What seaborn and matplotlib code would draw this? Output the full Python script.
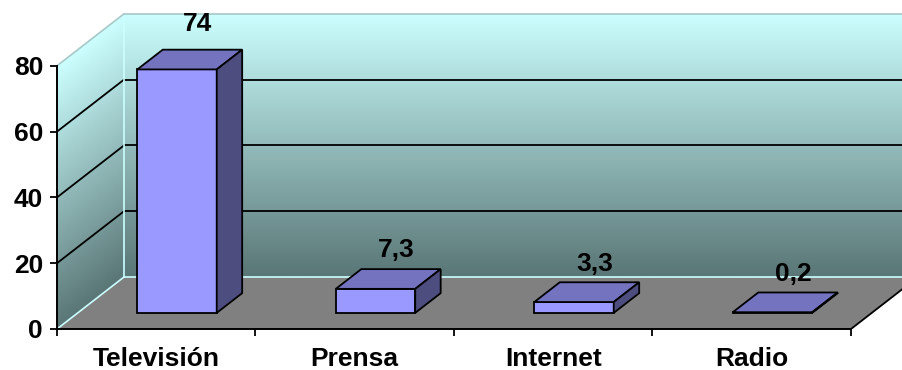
import numpy as np
import pandas as pd
import matplotlib
matplotlib.use('Agg')
import matplotlib.pyplot as plt
from matplotlib.patches import Polygon
from matplotlib.colors import LinearSegmentedColormap
import seaborn as sns

medios = ['Televisión', 'Prensa', 'Internet', 'Radio']
porcentaje = [74, 7.3, 3.3, 0.2]
etiquetas = ['74', '7,3', '3,3', '0,2']
yticks = [0, 20, 40, 60, 80]

sns.set_style('white')
plt.rcParams['font.family'] = ['Liberation Sans', 'DejaVu Sans']
plt.rcParams['font.weight'] = 'bold'

fig = plt.figure(figsize=(9.03, 3.70), dpi=100)
ax = fig.add_axes([57 / 903, 41 / 370, 846 / 903, 329 / 370])
ax.patch.set_alpha(0)

n = len(medios)
ymax = yticks[-1]
# depth of the pseudo 3d box, in category units / value units
dx, dy = 0.3375, 15.8
# bar placed inside the depth: front offset and bar depth (fractions)
f0, bd = 0.31, 0.38

df = pd.DataFrame({'medio': medios, 'pct': porcentaje})
sns.barplot(data=df, x='medio', y='pct', color='#9999ff', saturation=1,
            width=0.4, edgecolor='black', linewidth=1.3, ax=ax, zorder=4)
bars = list(ax.patches)

cmap = LinearSegmentedColormap.from_list('wall', ['#5a7676', '#ccffff'])

# back wall
x0, x1 = -0.5 + dx, n - 0.5 + dx
back = Polygon([(x0, dy), (x1, dy), (x1, ymax + dy), (x0, ymax + dy)],
               closed=True, fc='none', ec='none')
ax.add_patch(back)
grad = np.linspace(0, 1, 256).reshape(-1, 1)
im = ax.imshow(grad, cmap=cmap, origin='lower', aspect='auto',
               extent=(x0, x1, dy, ymax + dy), zorder=0, interpolation='bilinear')
im.set_clip_path(back)

# side wall (gradient follows the wall's own height)
side = Polygon([(-0.5, 0), (-0.5 + dx, dy), (-0.5 + dx, ymax + dy), (-0.5, ymax)],
               closed=True, fc='none', ec='none')
ax.add_patch(side)
xs = np.linspace(0, 1, 60)
ys = np.linspace(0, ymax + dy, 300)
X, Y = np.meshgrid(xs, ys)
H = np.clip((Y - X * dy) / ymax, 0, 1)
im2 = ax.imshow(H, cmap=cmap, origin='lower', aspect='auto', vmin=0, vmax=1,
                extent=(-0.5, -0.5 + dx, 0, ymax + dy), zorder=0, interpolation='bilinear')
im2.set_clip_path(side)

# floor
ax.add_patch(Polygon([(-0.5, 0), (n - 0.5, 0), (x1, dy), (x0, dy)],
                     closed=True, fc='#808080', ec='none', zorder=1))

# gridlines on walls
for v in yticks[1:-1]:
    ax.plot([x0, x1], [v + dy, v + dy], color='black', lw=1.3, zorder=2)
    ax.plot([-0.5, x0], [v, v + dy], color='black', lw=1.3, zorder=2)

# wall edges
edge = '#ccffff'
ax.plot([x0, x1], [dy, dy], color=edge, lw=1.2, zorder=2)
ax.plot([-0.5, x0], [0, dy], color=edge, lw=1.2, zorder=2)
ax.plot([x0, x0], [dy, ymax + dy], color=edge, lw=1.2, zorder=2)
ax.plot([x0, x1], [ymax + dy, ymax + dy], color='#a8c8c8', lw=1.2, zorder=2)
ax.plot([-0.5, x0], [ymax, ymax + dy], color='#a8c8c8', lw=1.2, zorder=2)
ax.plot([n - 0.5, x1], [0, dy], color='black', lw=1.3, zorder=2)

# extrude the bars
for p, val, lab in zip(bars, porcentaje, etiquetas):
    p.set_x(p.get_x() + f0 * dx)
    p.set_y(f0 * dy)
    bx0, bx1 = p.get_x(), p.get_x() + p.get_width()
    by0, by1 = p.get_y(), p.get_y() + p.get_height()
    ddx, ddy = bd * dx, bd * dy
    ax.add_patch(Polygon([(bx0, by1), (bx1, by1), (bx1 + ddx, by1 + ddy), (bx0 + ddx, by1 + ddy)],
                         closed=True, fc='#7373bf', ec='black', lw=1.3, zorder=4))
    ax.add_patch(Polygon([(bx1, by0), (bx1 + ddx, by0 + ddy), (bx1 + ddx, by1 + ddy), (bx1, by1)],
                         closed=True, fc='#4d4d80', ec='black', lw=1.3, zorder=4))
    ax.text((bx0 + bx1) / 2 + 0.8 * ddx, val * 1.03 + 14.3, lab, ha='center', va='baseline',
            fontsize=19, fontweight='bold', color='black', zorder=5)

ax.set_xlim(-0.5, -0.5 + 846 / 198.5)
ax.set_ylim(0, 100)

for s in ['top', 'right']:
    ax.spines[s].set_visible(False)
for s in ['left', 'bottom']:
    ax.spines[s].set_color('black')
    ax.spines[s].set_linewidth(1.4)
    ax.spines[s].set_zorder(3)
ax.spines['left'].set_bounds(0, ymax)
ax.spines['bottom'].set_bounds(-0.5, n - 0.5)

ax.set_yticks(yticks)
ax.set_yticklabels([str(t) for t in yticks])
ax.set_xticks(np.arange(n + 1) - 0.5)
ax.set_xticklabels([])
ax.set_xticks(np.arange(n), minor=True)
ax.set_xticklabels(medios, minor=True)
ax.tick_params(axis='both', which='major', direction='out', length=5, width=1.3,
               color='black', labelcolor='black', labelsize=19, pad=5)
ax.tick_params(axis='x', which='minor', length=0, labelsize=19, labelcolor='black', pad=13)
ax.tick_params(axis='y', left=True)
ax.tick_params(axis='x', bottom=True, which='both')
ax.set_xlabel('')
ax.set_ylabel('')
ax.grid(False)

fig.savefig('out.png', dpi=100)
